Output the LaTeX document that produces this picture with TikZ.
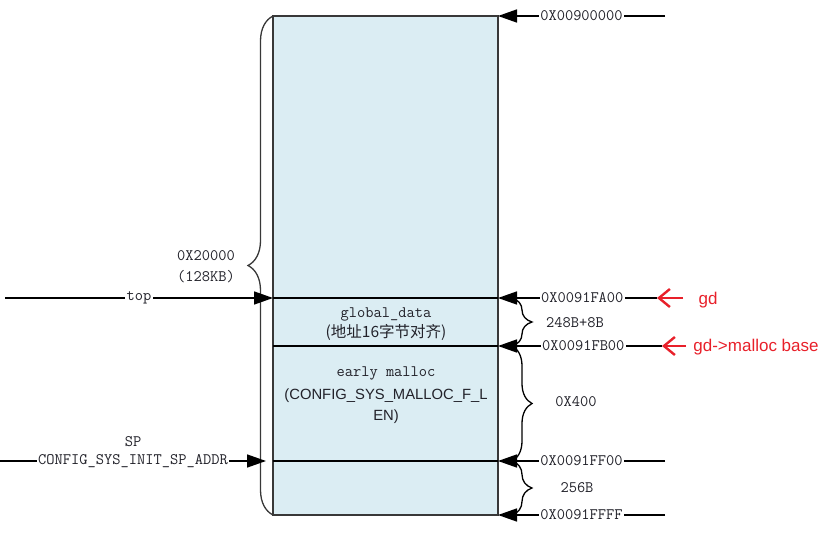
\documentclass[tikz,border=0pt]{standalone}
\usepackage{fontspec}
\setmainfont{Liberation Serif}
\setsansfont{Liberation Sans}
\newfontfamily\cjk{Noto Sans CJK SC}
\usetikzlibrary{arrows.meta,decorations.pathreplacing}
\definecolor{memfill}{HTML}{DBEDF3}
\definecolor{txt}{HTML}{22222A}
\definecolor{boxline}{HTML}{383838}
\definecolor{redc}{HTML}{E8202A}
\begin{document}
\begin{tikzpicture}[x=1pt,y=-1pt,
  mono/.style={font=\fontsize{16}{19}\ttfamily, text=txt, inner sep=0pt},
  addr/.style={mono, fill=white, inner xsep=1.5pt, inner ysep=1pt},
  sans/.style={font=\fontsize{14.8}{18}\sffamily, text=txt, inner sep=0pt},
  arr/.style={line width=1.5pt, draw=black, -{Triangle[length=19pt,width=13pt]}},
  divider/.style={line width=1.5pt, draw=black},
  bracel/.style={line width=1.3pt, draw=boxline, decorate, decoration={brace, amplitude=25pt}},
  braces/.style={line width=1.3pt, draw=black, decorate, decoration={brace, amplitude=20pt}},
  redarr/.style={line width=2.4pt, draw=redc, -{Straight Barb[length=11pt,width=18pt]}},
  redlab/.style={font=\fontsize{17}{20}\sffamily, text=redc, inner sep=0pt}
]
\useasboundingbox (0,0) rectangle (830,537);

% memory box
\draw[fill=memfill, draw=boxline, line width=1.8pt] (273,16) rectangle (498,515);

% right-edge points
\coordinate (r0) at (498,16);
\coordinate (r1) at (498,298);
\coordinate (r2) at (498,346);
\coordinate (r3) at (498,461);
\coordinate (r4) at (498,515);
% left-edge points
\coordinate (l1) at (273,298);
\coordinate (l2) at (273,346);
\coordinate (l3) at (273,461);

% dividers
\draw[divider] (l1) -- (r1);
\draw[divider] (l2) -- (r2);
\draw[divider] (l3) -- (r3);

% address arrows
\coordinate (e0) at (665,16);
\coordinate (e1) at (657,298);
\coordinate (e2) at (662,346);
\coordinate (e3) at (665,461);
\coordinate (e4) at (665,515);
\draw[arr] (e0) -- node[addr, pos=0.5] (a0) {0X00900000} (r0);
\draw[arr] (e1) -- node[addr, pos=0.47] (a1) {0X0091FA00} (r1);
\draw[arr] (e2) -- node[addr, pos=0.48] (a2) {0X0091FB00} (r2);
\draw[arr] (e3) -- node[addr, pos=0.5] (a3) {0X0091FF00} (r3);
\draw[arr] (e4) -- node[addr, pos=0.5] (a4) {0X0091FFFF} (r4);

% right braces
\draw[braces] (512,298) -- (512,346);
\draw[braces] (512,346) -- (512,461);
\draw[braces] (512,461) -- (512,515);
\node[mono] (s1) at (575,323) {248B+8B};
\node[mono] (s2) at (576,402) {0X400};
\node[mono] (s3) at (577,488) {256B};

% left big brace
\draw[bracel] (273,515) -- (273,16);
\node[mono] (tot1) at (206,256) {0X20000};
\node[mono] (tot2) at (206,277) {(128KB)};

% left arrows
\coordinate (tl) at (5,298);
\coordinate (sl) at (0,461);
\coordinate (stip) at (266,461);
\draw[arr] (tl) -- node[addr] (top) {top} (l1);
\draw[arr] (sl) -- node[addr] (spaddr) {CONFIG\_SYS\_INIT\_SP\_ADDR} (stip);
\node[mono] (sp) at (133,442) {SP};

% texts inside box
\node[mono] (gdt) at (386,314) {global\_data};
\node[font=\fontsize{15.5}{18}\cjk, text=txt, inner sep=0pt] (gdn) at (386,332) {(地址16字节对齐)};
\node[mono] (emt) at (386,373) {early malloc};
\node[sans] (emn1) at (386,396) {(CONFIG\_SYS\_MALLOC\_F\_L};
\node[sans] (emn2) at (386,417) {EN)};

% red annotations
\coordinate (g1t) at (683,298);
\coordinate (g2t) at (686,346);
\draw[redarr] (g1t) -- (e1);
\draw[redarr] (g2t) -- (e2);
\node[redlab] (gd) at (708,300) {gd};
\node[redlab] (gdm) at (756,347) {gd->malloc base};
\end{tikzpicture}
\end{document}
